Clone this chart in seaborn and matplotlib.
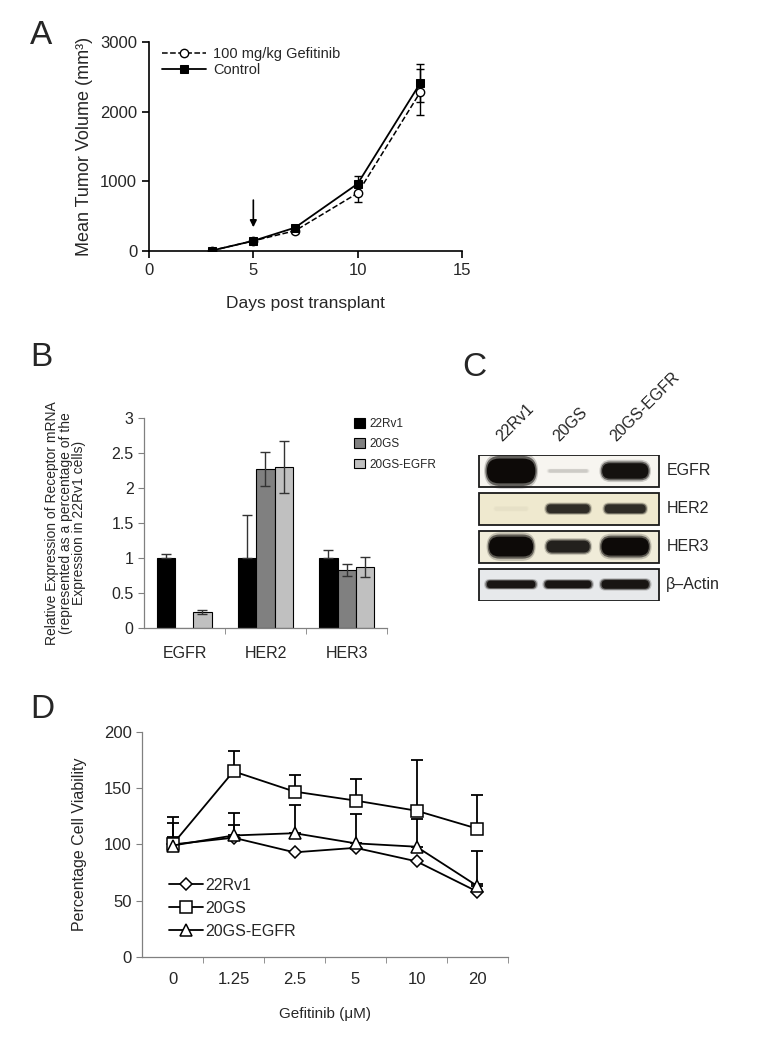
import numpy as np
import pandas as pd
import matplotlib.pyplot as plt
import seaborn as sns
from matplotlib.patches import Rectangle, FancyBboxPatch
from matplotlib.colors import to_rgb

sns.set_style('ticks')
plt.rcParams['font.family'] = ['Liberation Sans', 'DejaVu Sans']

# ---- Panel A data: tumour growth ----
days = [3, 5, 7, 10, 13]
gef_vol = [5, 145, 290, 830, 2280]
gef_err = [10, 15, 30, 130, 330]
ctl_vol = [5, 145, 335, 965, 2410]
ctl_err = [10, 15, 25, 115, 270]
arrow_day = 5

# ---- Panel B data: receptor mRNA ----
receptors = ['EGFR', 'HER2', 'HER3']
cell_lines = ['22Rv1', '20GS', '20GS-EGFR']
mrna_22rv1 = [1.0, 1.0, 1.0]
mrna_20gs = [0.0, 2.27, 0.83]
mrna_20gs_egfr = [0.23, 2.30, 0.87]
err_22rv1 = [0.06, 0.61, 0.11]
err_20gs = [0.0, 0.24, 0.08]
err_20gs_egfr = [0.03, 0.37, 0.14]

# ---- Panel C data: western blot ----
blot_proteins = ['EGFR', 'HER2', 'HER3', 'β\u2013Actin']
blot_bg = ['#f7f5f0', '#efe9cf', '#f0ecd9', '#e7e9eb']
band_dark = [[1.0, 0.18, 0.97], [0.04, 0.85, 0.85], [1.0, 0.9, 1.0], [0.95, 0.95, 0.95]]
band_thick = [[0.8, 0.1, 0.5], [0.12, 0.28, 0.28], [0.64, 0.38, 0.58], [0.24, 0.24, 0.28]]
band_width = [[0.9, 0.72, 0.86], [0.6, 0.8, 0.76], [0.82, 0.8, 0.88], [0.9, 0.86, 0.88]]

# ---- Panel D data: cell viability ----
doses = ['0', '1.25', '2.5', '5', '10', '20']
via_22rv1 = [100, 106, 93, 97, 85, 58]
via_20gs = [100, 165, 147, 139, 130, 114]
via_20gs_egfr = [99, 108, 110, 101, 98, 63]
up_22rv1 = [7, 11, 0, 0, 0, 7]
up_20gs = [24, 18, 15, 19, 45, 30]
up_20gs_egfr = [20, 20, 25, 26, 25, 31]

fig = plt.figure(figsize=(7.59, 10.5), dpi=100)

# ================= Panel A =================
axA = fig.add_axes([0.1963, 0.761, 0.4124, 0.199])
sns.lineplot(x=days, y=gef_vol, ax=axA, color='black', linestyle='--', lw=1.1,
             marker='o', markersize=6, markerfacecolor='white', markeredgecolor='black',
             markeredgewidth=1, label='100 mg/kg Gefitinib', zorder=3)
sns.lineplot(x=days, y=ctl_vol, ax=axA, color='black', lw=1.3,
             marker='s', markersize=6, markerfacecolor='black', markeredgecolor='black',
             label='Control', zorder=3)
axA.errorbar(days, gef_vol, yerr=gef_err, fmt='none', ecolor='black', elinewidth=1, capsize=3, zorder=2)
axA.errorbar(days, ctl_vol, yerr=ctl_err, fmt='none', ecolor='black', elinewidth=1, capsize=3, zorder=2)
axA.annotate('', xy=(arrow_day, 300), xytext=(arrow_day, 770),
             arrowprops=dict(arrowstyle='-|>', color='black', lw=1.2, mutation_scale=10))
axA.set_xlim(0, 15)
axA.set_ylim(0, 3000)
axA.set_xticks([0, 5, 10, 15])
axA.set_yticks([0, 1000, 2000, 3000])
axA.tick_params(labelsize=12, length=5, width=1.2, color='black')
for s in ['left', 'bottom']:
    axA.spines[s].set_linewidth(1.2)
    axA.spines[s].set_color('black')
sns.despine(ax=axA)
axA.set_xlabel('Days post transplant', fontsize=12.5, labelpad=13)
axA.set_ylabel('Mean Tumor Volume (mm³)', fontsize=13, labelpad=5)
axA.legend(loc='upper left', bbox_to_anchor=(0.0, 1.04), frameon=False, fontsize=10.5,
           handlelength=3.0, handletextpad=0.5, labelspacing=0.15)

# ================= Panel B =================
axB = fig.add_axes([0.1897, 0.4019, 0.3202, 0.2])
dfB = pd.DataFrame({
    'receptor': receptors * 3,
    'line': [c for c in cell_lines for _ in receptors],
    'value': mrna_22rv1 + mrna_20gs + mrna_20gs_egfr,
})
pal = {'22Rv1': '#000000', '20GS': '#808080', '20GS-EGFR': '#c0c0c0'}
sns.barplot(data=dfB, x='receptor', y='value', hue='line', order=receptors, hue_order=cell_lines,
            palette=pal, width=0.667, edgecolor='black', linewidth=0.8, errorbar=None,
            saturation=1, ax=axB)
err_sets = [err_22rv1, err_20gs, err_20gs_egfr]
val_sets = [mrna_22rv1, mrna_20gs, mrna_20gs_egfr]
bar_conts = list(axB.containers)
for ci, cont in enumerate(bar_conts):
    xs = [p.get_x() + p.get_width() / 2 for p in cont.patches]
    lower = [0 if ci == 0 else e for e in err_sets[ci]]
    keep = [i for i, e in enumerate(err_sets[ci]) if e > 0]
    axB.errorbar([xs[i] for i in keep], [val_sets[ci][i] for i in keep],
                 yerr=[[lower[i] for i in keep], [err_sets[ci][i] for i in keep]],
                 fmt='none', ecolor='#333333', elinewidth=1, capsize=3.5, zorder=4)
axB.set_xlim(-0.5, 2.5)
axB.set_ylim(0, 3)
axB.set_yticks([0, 0.5, 1, 1.5, 2, 2.5, 3])
axB.set_yticklabels(['0', '0.5', '1', '1.5', '2', '2.5', '3'])
axB.set_xticks([0.5, 1.5, 2.5], minor=True)
axB.tick_params(axis='x', which='major', length=0, labelsize=11.5, pad=13)
axB.tick_params(axis='x', which='minor', length=4, color='#808080')
axB.tick_params(axis='y', length=4, color='#808080', labelsize=11.5)
for s in ['left', 'bottom']:
    axB.spines[s].set_color('#808080')
    axB.spines[s].set_linewidth(0.9)
sns.despine(ax=axB)
axB.set_xlabel('')
axB.set_ylabel('Relative Expression of Receptor mRNA\n(represented as a percentage of the\nExpression in 22Rv1 cells)',
               fontsize=10, labelpad=18, linespacing=0.95)
axB.legend(loc='upper left', bbox_to_anchor=(0.82, 1.05), frameon=False, fontsize=8.5,
           handlelength=0.9, handleheight=0.9, handletextpad=0.4, labelspacing=0.7)

# ================= Panel C =================
axC = fig.add_axes([0.6298, 0.4276, 0.2398, 0.139])
axC.set_xlim(-0.58, 2.61)
axC.set_ylim(3.44, -0.42)
axC.axis('off')
for r, prot in enumerate(blot_proteins):
    axC.add_patch(Rectangle((-0.56, r - 0.42), 3.15, 0.85, facecolor=blot_bg[r],
                            edgecolor='#1a1a1a', lw=1.3, zorder=1))
    bg = np.array(to_rgb(blot_bg[r]))
    for l in range(len(cell_lines)):
        d = band_dark[r][l]
        col = bg * (1 - d) + np.array([0.05, 0.04, 0.03]) * d
        w = band_width[r][l]
        h = band_thick[r][l]
        for k, (sc, al) in enumerate([(1.18, 0.2), (1.0, 0.55), (0.82, 1.0)]):
            ww, hh = w * sc ** 0.3, h * sc
            rs = (hh / 2) / 1.5
            axC.add_patch(FancyBboxPatch((l - ww / 2, r - hh / 2), ww, hh,
                                         boxstyle='round,pad=0,rounding_size=%f' % rs,
                                         facecolor=col, edgecolor='none', alpha=al,
                                         mutation_aspect=1.5, zorder=2 + k))
    axC.text(2.72, r, prot, ha='left', va='center', fontsize=11.5, clip_on=False)
for l, lane in enumerate(cell_lines):
    axC.text(l - 0.12, -0.72, lane, rotation=45, rotation_mode='anchor', ha='left', va='bottom',
             fontsize=11.5, clip_on=False)

# ================= Panel D =================
axD = fig.add_axes([0.1871, 0.0886, 0.4822, 0.2143])
pos = list(range(len(doses)))
series = [('22Rv1', via_22rv1, up_22rv1, 'D', 6.5),
          ('20GS', via_20gs, up_20gs, 's', 8.5),
          ('20GS-EGFR', via_20gs_egfr, up_20gs_egfr, '^', 9)]
for name, vals, ups, mk, ms in series:
    axD.errorbar(pos, vals, yerr=[[0] * len(ups), ups], fmt='none', ecolor='black',
                 elinewidth=1.3, capsize=4, capthick=1.3, zorder=2)
for name, vals, ups, mk, ms in series:
    sns.lineplot(x=pos, y=vals, ax=axD, color='black', lw=1.3, marker=mk,
                 markersize=ms, markerfacecolor='white',
                 markeredgecolor='black', markeredgewidth=1.1, label=name, zorder=3)
axD.set_xlim(-0.5, 5.5)
axD.set_ylim(0, 200)
axD.set_yticks([0, 50, 100, 150, 200])
axD.set_xticks(pos)
axD.set_xticklabels(doses)
axD.set_xticks([0.5, 1.5, 2.5, 3.5, 4.5, 5.5], minor=True)
axD.tick_params(axis='x', which='major', length=0, labelsize=12, pad=11)
axD.tick_params(axis='x', which='minor', length=4, color='#808080')
axD.tick_params(axis='y', length=4, color='#808080', labelsize=12)
for s in ['left', 'bottom']:
    axD.spines[s].set_color('#808080')
    axD.spines[s].set_linewidth(0.9)
sns.despine(ax=axD)
axD.set_xlabel('Gefitinib (μM)', fontsize=11, labelpad=14)
axD.set_ylabel('Percentage Cell Viability', fontsize=11.5, labelpad=12)
axD.legend(loc='upper left', bbox_to_anchor=(0.035, 0.415), frameon=False, fontsize=11.5,
           handlelength=2.1, handletextpad=0.15, labelspacing=0.5)

# panel letters
for letter, xx, yy in [('A', 30, 35), ('B', 30, 358), ('C', 462, 368), ('D', 30, 710)]:
    fig.text(xx / 759, 1 - yy / 1050, letter, fontsize=24, ha='left', va='center')

plt.savefig('out.png', dpi=100)
